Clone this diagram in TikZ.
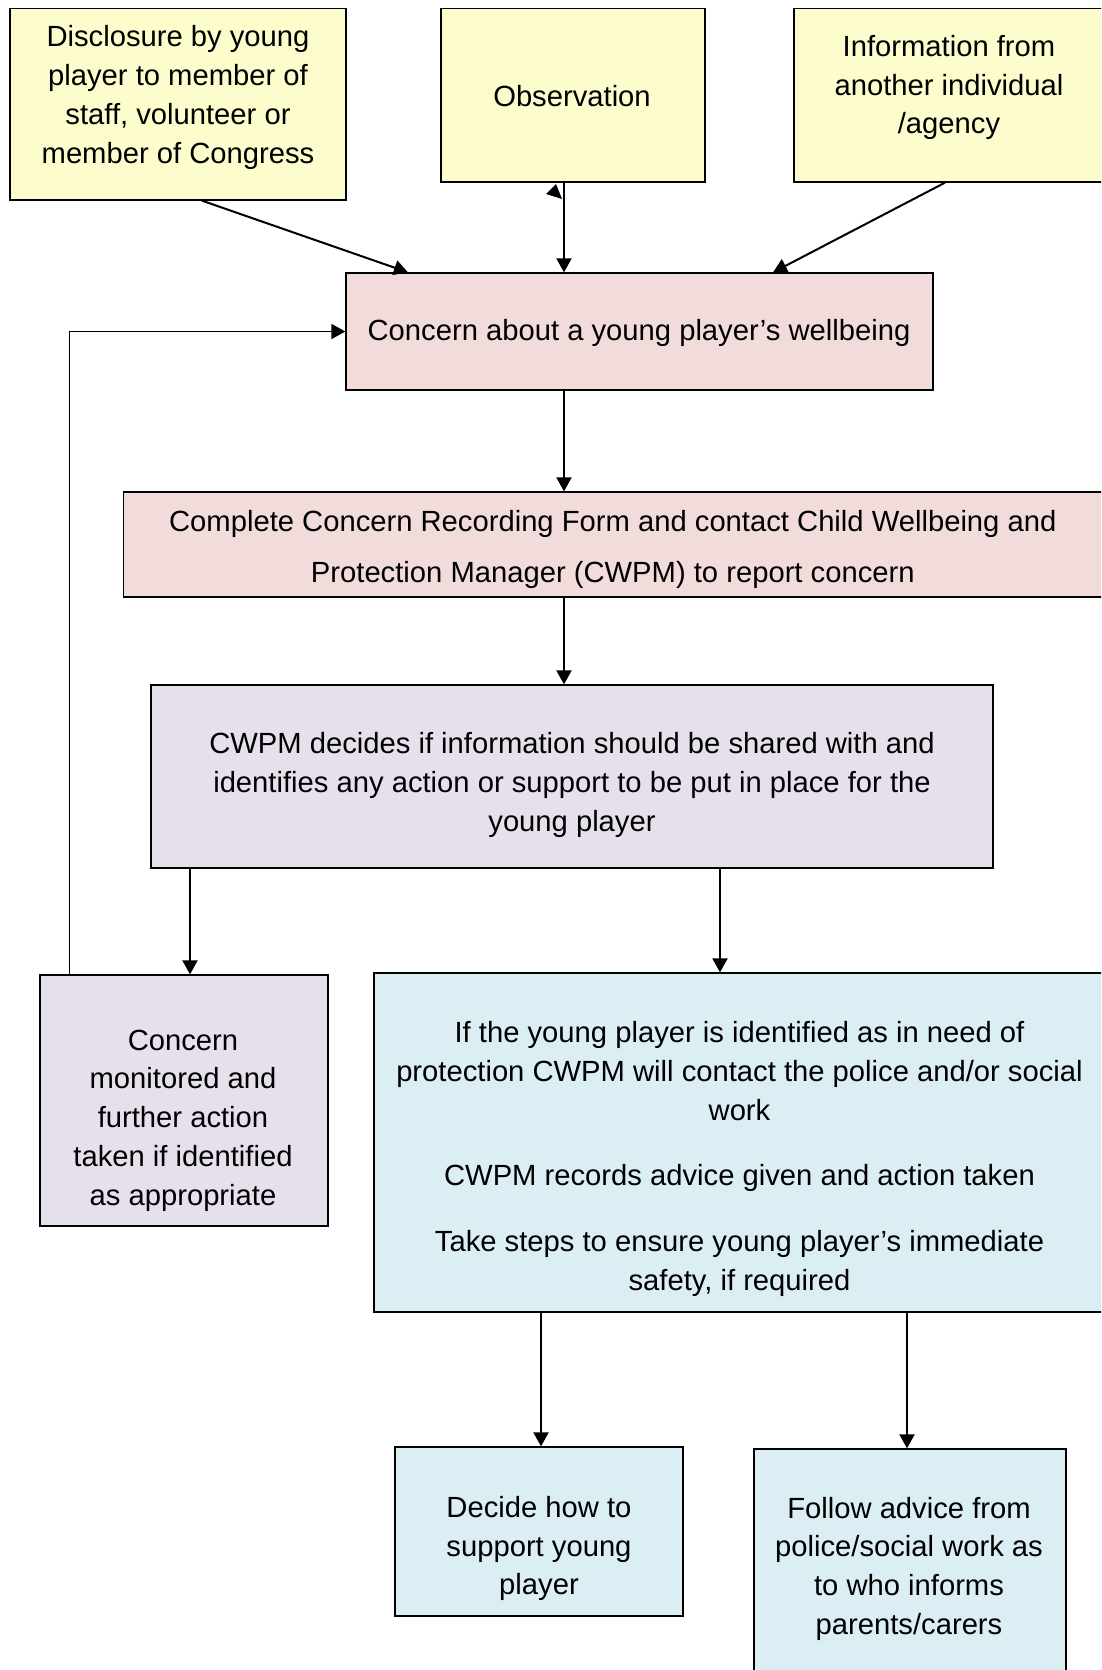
\documentclass[tikz,border=0pt]{standalone}
\usepackage{fontspec}
\setmainfont{Liberation Sans}
\usetikzlibrary{arrows.meta}
\definecolor{boxyellow}{HTML}{FCFCCC}
\definecolor{boxpink}{HTML}{F2DCDB}
\definecolor{boxlilac}{HTML}{E5E0EC}
\definecolor{boxblue}{HTML}{DBEEF3}
\tikzset{
  box/.style={draw=black, line width=1.3pt, rectangle, inner sep=0pt},
  txt/.style={align=center, inner sep=0pt, font=\fontsize{29.2}{38.8}\selectfont},
  arr/.style={line width=2pt, -{Triangle[length=14pt,width=15pt]}}
}
\begin{document}
\begin{tikzpicture}[x=1pt,y=-1pt]
    \useasboundingbox (0,0) rectangle (1101,1670);
    \clip (0,0) rectangle (1101,1670);
    \fill [white] (0,0) rectangle (1101,1670);
    \node [box, fill=boxyellow, minimum width=336pt, minimum height=191.5pt] (disc) at (178,104.25) {};
    \node [box, fill=boxyellow, minimum width=264pt, minimum height=173.5pt] (obs) at (573,95.25) {};
    \node [box, fill=boxyellow, minimum width=311pt, minimum height=173.5pt] (info) at (949.5,95.25) {};
    \node [box, fill=boxpink, minimum width=587pt, minimum height=117pt] (conc) at (639.5,331.5) {};
    \node [box, fill=boxpink, minimum width=981.5pt, minimum height=105pt] (form) at (614.25,544.5) {};
    \node [box, fill=boxlilac, minimum width=842pt, minimum height=183pt] (dec) at (572,776.5) {};
    \node [box, fill=boxlilac, minimum width=288pt, minimum height=251pt] (mon) at (184,1100.5) {};
    \node [box, fill=boxblue, minimum width=731pt, minimum height=339pt] (need) at (739.5,1142.5) {};
    \node [box, fill=boxblue, minimum width=288pt, minimum height=169pt] (supp) at (539,1531.5) {};
    \node [box, fill=boxblue, minimum width=312pt, minimum height=251pt] (foll) at (910,1574.5) {};
    \node [txt] at (178,97.5) {Disclosure by young\\player to member of\\staff, volunteer or\\member of Congress};
    \node [txt] at (572,96) {Observation};
    \node [txt] at (949,87.5) {Information from\\another individual\\/agency};
    \node [txt] at (639,332.5) {Concern about a young player’s wellbeing};
    \node [txt, font=\fontsize{29.2}{51}\selectfont] at (612.8,549.5) {Complete Concern Recording Form and contact Child Wellbeing and\\Protection Manager (CWPM) to report concern};
    \node [txt] at (572,785) {CWPM decides if information should be shared with and\\identifies any action or support to be put in place for the\\young player};
    \node [txt] at (183,1120.5) {Concern\\monitored and\\further action\\taken if identified\\as appropriate};
    \node [txt] at (739.5,1159) {If the young player is identified as in need of\\protection CWPM will contact the police and/or social\\work\\[26.7pt]CWPM records advice given and action taken\\[26.7pt]Take steps to ensure young player’s immediate\\safety, if required};
    \node [txt] at (539,1548.5) {Decide how to\\support young\\player};
    \node [txt] at (909,1568.8) {Follow advice from\\police/social work as\\to who informs\\parents/carers};
    \coordinate (spine) at (564,0);
    \coordinate (left) at (190,0);
    \coordinate (right) at (720,0);
    \coordinate (lowl) at (541,0);
    \coordinate (lowr) at (907,0);
    \draw [arr] ([xshift=24pt]disc.south) -- ([xshift=-231.5pt]conc.north);
    \draw [arr] (obs.south -| spine) -- (conc.north -| spine);
    \fill (556,184) -- (546,194) -- (562,199) -- cycle;
    \draw [arr] ([xshift=-4.5pt]info.south) -- ([xshift=133.5pt]conc.north);
    \draw [arr, line width=1.5pt] ([xshift=30pt]mon.north west) |- (conc.west);
    \draw [arr] (conc.south -| spine) -- (form.north -| spine);
    \draw [arr] (form.south -| spine) -- (dec.north -| spine);
    \draw [arr] (dec.south -| left) -- (mon.north -| left);
    \draw [arr] (dec.south -| right) -- (need.north -| right);
    \draw [arr] (need.south -| lowl) -- (supp.north -| lowl);
    \draw [arr] (need.south -| lowr) -- (foll.north -| lowr);
\end{tikzpicture}
\end{document}
